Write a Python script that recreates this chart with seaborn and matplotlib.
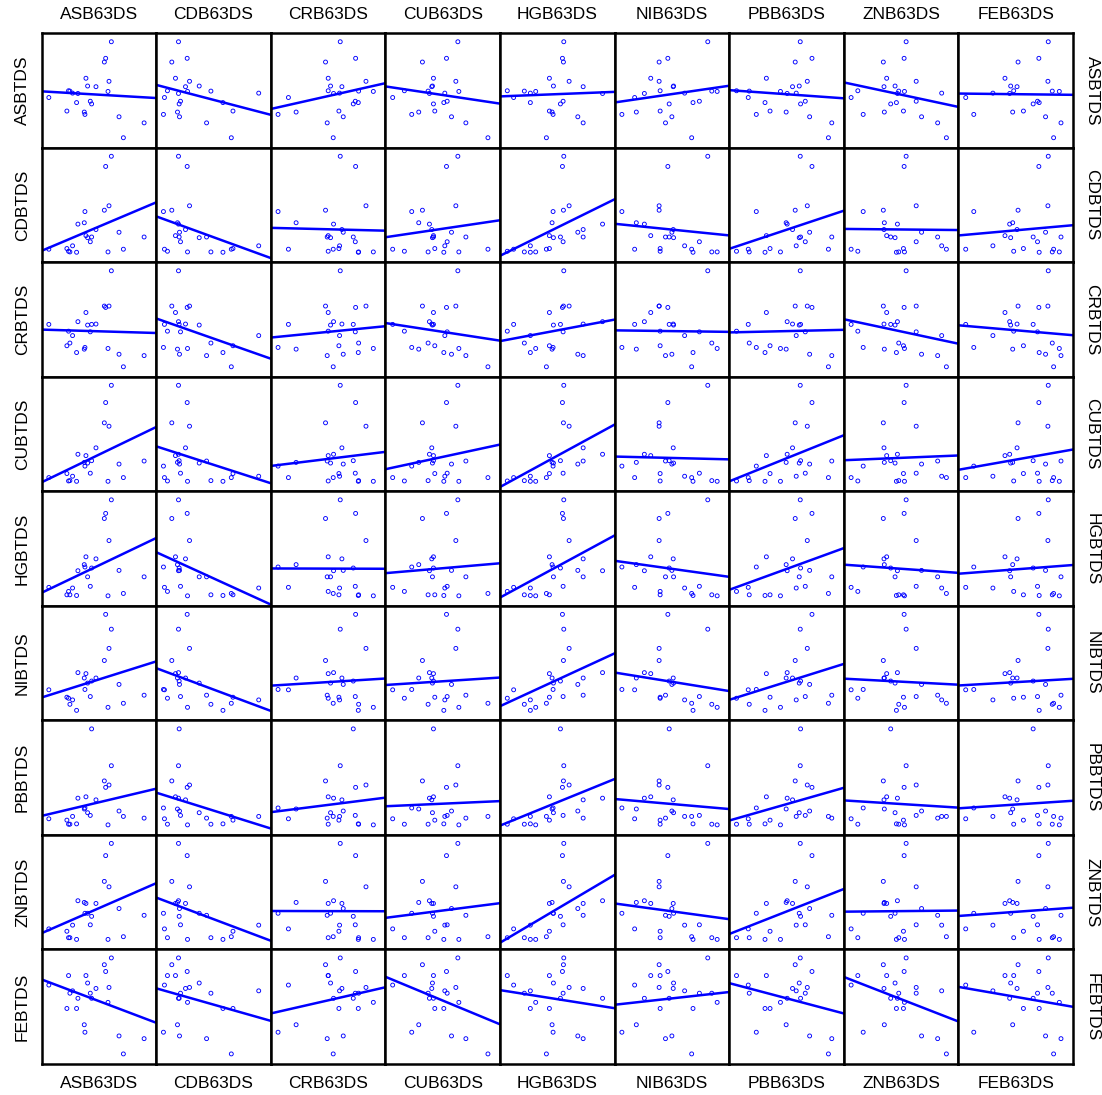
import numpy as np
import pandas as pd
import matplotlib
matplotlib.use('Agg')
import matplotlib.pyplot as plt
import seaborn as sns

ASB63DS = [209, 188, 192, 133, 81, 138, 22, 202, 163, 93, 146, 85, 109, 150, 199, 76, 105, 128, 130, 232, 307, 245]
CDB63DS = [66, 46, 92, 57, 33, 128, 24, 99, 87, 306, 72, 163, 66, 68, 93, 229, 199, 63, 21, 69, 150, 224]
CRB63DS = [210, 166, 256, 174, 174, 181, 55, 287, 215, 208, 255, 265, 190, 249, 309, 206, 264, 78, 24, 219, 171, 189]
CUB63DS = [214, 108, 180, 141, 54, 138, 19, 208, 136, 175, 182, 125, 129, 141, 217, 145, 172, 97, 76, 195, 238, 304]
HGB63DS = [190, 189, 186, 147, 21, 159, 40, 206, 248, 90, 188, 72, 306, 180, 106, 147, 90, 155, 158, 232, 248, 138]
NIB63DS = [279, 134, 160, 109, 137, 177, 61, 134, 176, 210, 254, 291, 90, 164, 307, 137, 235, 66, 23, 172, 153, 231]
PBB63DS = [212, 197, 247, 111, 22, 209, 57, 233, 189, 200, 227, 60, 173, 213, 153, 122, 107, 170, 81, 240, 306, 296]
ZNB63DS = [187, 119, 181, 129, 43, 154, 23, 217, 121, 293, 217, 165, 161, 141, 182, 179, 158, 122, 59, 233, 281, 307]
FEB63DS = [269, 179, 241, 140, 166, 157, 23, 268, 176, 104, 237, 281, 154, 224, 302, 195, 242, 163, 47, 261, 307, 285]

ASBTDS = [314, 254, 265, 206, 169, 183, 149, 197, 181, 162, 138, 168, 161, 130, 167, 109, 134, 106, 99, 92, 74, 30]
CDBTDS = [313, 154, 283, 79, 33, 73, 39, 167, 97, 49, 61, 31, 113, 75, 31, 41, 30, 117, 150, 89, 75, 39]
CRBTDS = [316, 212, 208, 193, 138, 156, 158, 212, 159, 125, 136, 103, 166, 158, 87, 95, 75, 85, 90, 70, 66, 33]
CUBTDS = [313, 202, 262, 105, 30, 83, 40, 192, 128, 44, 53, 31, 109, 90, 29, 52, 29, 85, 74, 80, 89, 40]
HGBTDS = [313, 258, 273, 145, 43, 86, 55, 193, 139, 53, 58, 33, 104, 112, 30, 33, 31, 122, 115, 105, 86, 37]
NIBTDS = [272, 179, 316, 140, 67, 112, 92, 215, 127, 62, 72, 49, 143, 118, 40, 70, 31, 127, 93, 108, 76, 52]
PBBTDS = [207, 162, 143, 115, 34, 68, 50, 150, 106, 57, 60, 34, 111, 316, 32, 46, 35, 79, 82, 73, 52, 57]
ZNBTDS = [317, 205, 281, 140, 39, 111, 65, 189, 140, 76, 77, 39, 148, 102, 34, 58, 34, 143, 111, 125, 105, 42]
FEBTDS = [313, 293, 273, 261, 261, 239, 233, 226, 223, 216, 209, 209, 194, 194, 182, 164, 164, 116, 94, 83, 75, 30]

x_vars = ['ASB63DS', 'CDB63DS', 'CRB63DS', 'CUB63DS', 'HGB63DS', 'NIB63DS', 'PBB63DS', 'ZNB63DS', 'FEB63DS']
y_vars = ['ASBTDS', 'CDBTDS', 'CRBTDS', 'CUBTDS', 'HGBTDS', 'NIBTDS', 'PBBTDS', 'ZNBTDS', 'FEBTDS']

data = pd.DataFrame({
    'ASB63DS': ASB63DS, 'CDB63DS': CDB63DS, 'CRB63DS': CRB63DS,
    'CUB63DS': CUB63DS, 'HGB63DS': HGB63DS, 'NIB63DS': NIB63DS,
    'PBB63DS': PBB63DS, 'ZNB63DS': ZNB63DS, 'FEB63DS': FEB63DS,
    'ASBTDS': ASBTDS, 'CDBTDS': CDBTDS, 'CRBTDS': CRBTDS,
    'CUBTDS': CUBTDS, 'HGBTDS': HGBTDS, 'NIBTDS': NIBTDS,
    'PBBTDS': PBBTDS, 'ZNBTDS': ZNBTDS, 'FEBTDS': FEBTDS,
})

sns.set_style('white')
plt.rcParams['font.family'] = ['Liberation Sans', 'DejaVu Sans']
plt.rcParams['text.color'] = 'black'


def padded(v, lo, hi):
    v = np.asarray(v, dtype=float)
    r = v.max() - v.min()
    return v.min() - lo * r, v.max() + hi * r


def reg_cell(x, y, **kws):
    ax = plt.gca()
    ax.set_xlim(padded(x, 0.077, 0.126))
    ax.set_ylim(padded(y, 0.105, 0.088))
    sns.regplot(x=x, y=y, ax=ax, ci=None, truncate=False, color='blue',
                scatter_kws={'s': 8, 'facecolors': 'none', 'linewidths': 0.65, 'alpha': 1},
                line_kws={'linewidth': 1.8})


g = sns.PairGrid(data, x_vars=x_vars, y_vars=y_vars, height=1.2, despine=False)
g.map(reg_cell)

fig = g.figure
fig.set_size_inches(11.02, 10.95)
fig.subplots_adjust(left=41.5 / 1102, right=1073 / 1102,
                    top=1 - 33.3 / 1095, bottom=1 - 1064 / 1095,
                    wspace=0, hspace=0)

for ax in g.axes.flat:
    ax.set_xlabel('')
    ax.set_ylabel('')
    ax.tick_params(left=False, bottom=False, labelleft=False, labelbottom=False)
    for s in ax.spines.values():
        s.set_color('black')
        s.set_linewidth(1.8)

dx = 19 / 1102
dy = 19 / 1095
for j, name in enumerate(x_vars):
    p = g.axes[0, j].get_position()
    cx = (p.x0 + p.x1) / 2
    fig.text(cx, p.y1 + dy, name, ha='center', va='center', fontsize=12.5, color='black')
    p = g.axes[-1, j].get_position()
    fig.text(cx, p.y0 - dy, name, ha='center', va='center', fontsize=12.5, color='black')

for i, name in enumerate(y_vars):
    p = g.axes[i, 0].get_position()
    cy = (p.y0 + p.y1) / 2
    fig.text(p.x0 - dx, cy, name, ha='center', va='center', rotation=90, fontsize=12.5, color='black')
    p = g.axes[i, -1].get_position()
    fig.text(p.x1 + dx, cy, name, ha='center', va='center', rotation=270, fontsize=12.5, color='black')

fig.savefig('out.png', dpi=100)
